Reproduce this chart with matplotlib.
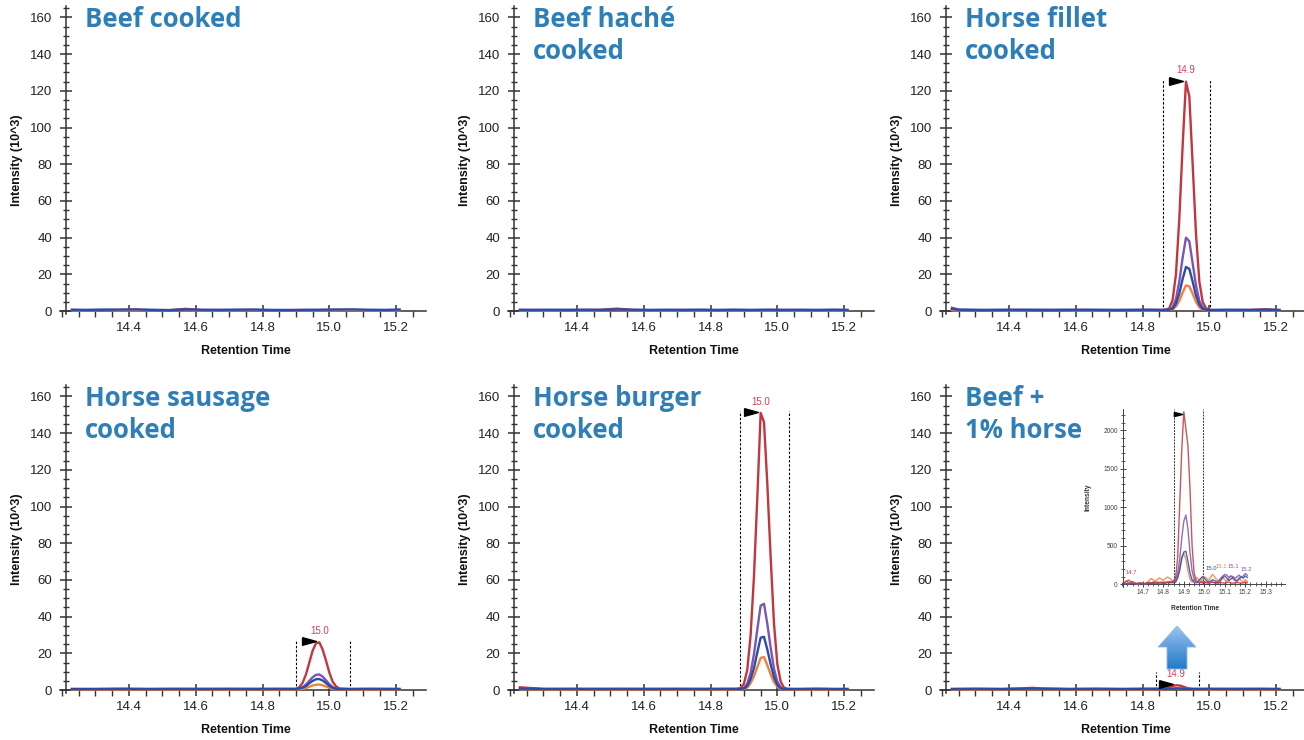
import numpy as np
import matplotlib.pyplot as plt
import matplotlib.transforms as mtransforms
from matplotlib.ticker import MultipleLocator, FormatStrFormatter
from matplotlib.patches import Polygon
from matplotlib.colors import LinearSegmentedColormap

plt.rcParams['font.family'] = ['Liberation Sans', 'DejaVu Sans']

# ---------------- data ----------------
titles = ["Beef cooked", "Beef haché\ncooked", "Horse fillet\ncooked",
          "Horse sausage\ncooked", "Horse burger\ncooked", "Beef +\n1% horse"]

# flat baselines
flat_rt = [14.23, 14.27, 14.32, 14.37, 14.42, 14.47, 14.52, 14.57, 14.62, 14.67, 14.72,
           14.77, 14.82, 14.87, 14.92, 14.97, 15.02, 15.07, 15.12, 15.17, 15.21]

beef_red = [0.6, 0.5, 0.6, 0.5, 0.7, 0.5, 0.4, 1.2, 0.5, 0.6, 0.5, 0.6, 0.5, 0.4, 0.6, 0.5, 0.6, 0.5, 0.4, 0.5, 0.6]
beef_purple = [0.5, 0.5, 0.6, 0.5, 0.5, 0.6, 0.5, 0.7, 0.5, 0.5, 0.6, 0.5, 0.5, 0.6, 0.5, 0.5, 0.6, 0.5, 0.5, 0.5, 0.5]
beef_blue = [0.7, 0.6, 0.7, 0.8, 0.9, 0.6, 0.5, 0.8, 0.7, 0.6, 0.7, 0.8, 0.6, 0.5, 0.6, 0.7, 0.8, 0.9, 0.7, 0.6, 0.8]
beef_orange = [0.4, 0.4, 0.5, 0.4, 0.4, 0.4, 0.5, 0.4, 0.4, 0.4, 0.4, 0.5, 0.4, 0.4, 0.4, 0.4, 0.4, 0.5, 0.4, 0.4, 0.4]

hache_red = [0.5, 0.6, 0.5, 0.5, 0.6, 0.7, 1.3, 0.6, 0.5, 0.5, 0.6, 0.5, 0.5, 0.6, 0.5, 0.5, 0.6, 0.5, 0.5, 0.6, 0.5]
hache_purple = [0.5, 0.5, 0.5, 0.6, 0.5, 0.5, 0.7, 0.5, 0.5, 0.5, 0.5, 0.6, 0.5, 0.5, 0.5, 0.6, 0.5, 0.5, 0.5, 0.5, 0.5]
hache_blue = [0.7, 0.6, 0.7, 0.6, 0.7, 0.6, 0.8, 0.7, 0.6, 0.7, 0.6, 0.7, 0.6, 0.7, 0.6, 0.7, 0.6, 0.7, 0.6, 0.7, 0.6]
hache_orange = [0.4, 0.4, 0.4, 0.4, 0.4, 0.4, 0.5, 0.4, 0.4, 0.4, 0.4, 0.4, 0.4, 0.4, 0.4, 0.4, 0.4, 0.4, 0.4, 0.4, 0.4]

# horse fillet
fillet_rt = [14.23, 14.25, 14.32, 14.42, 14.52, 14.62, 14.72, 14.82, 14.86, 14.87, 14.88, 14.89, 14.90, 14.91,
             14.92, 14.93, 14.94, 14.95, 14.96, 14.97, 14.98, 14.99, 15.00, 15.01, 15.05, 15.12, 15.17, 15.21]
fillet_red = [0.8, 0.5, 0.5, 0.6, 0.5, 0.6, 0.5, 0.6, 0.6, 0.8, 1.5, 6, 20, 50,
              90, 125, 117, 80, 42, 16, 5, 1.5, 0.7, 0.5, 0.5, 0.6, 1.0, 0.5]
fillet_purple = [1.8, 0.8, 0.5, 0.5, 0.6, 0.5, 0.5, 0.5, 0.5, 0.6, 0.9, 2, 6.5, 16,
                 29, 40, 38, 26, 14, 5.5, 2, 0.8, 0.5, 0.5, 0.5, 0.5, 0.5, 0.5]
fillet_blue = [1.2, 0.7, 0.6, 0.7, 0.6, 0.7, 0.6, 0.7, 0.6, 0.6, 0.7, 1.2, 4, 9.5,
               17.5, 24, 23, 16, 8.5, 3.5, 1.2, 0.7, 0.6, 0.6, 0.7, 0.6, 0.7, 0.6]
fillet_orange = [0.5, 0.4, 0.5, 0.4, 0.5, 0.4, 0.5, 0.4, 0.5, 0.5, 0.6, 0.8, 2.5, 5.5,
                 10, 14, 13.5, 9.5, 5, 2, 0.8, 0.5, 0.4, 0.4, 0.5, 0.4, 0.5, 0.4]

# horse sausage
sausage_rt = [14.23, 14.30, 14.38, 14.46, 14.54, 14.62, 14.70, 14.78, 14.85, 14.90, 14.91, 14.92, 14.93, 14.94,
              14.95, 14.96, 14.97, 14.98, 14.99, 15.00, 15.01, 15.02, 15.03, 15.06, 15.12, 15.17, 15.21]
sausage_red = [0.5, 0.5, 0.6, 0.5, 0.5, 0.6, 0.5, 0.6, 0.5, 0.6, 1.5, 4, 8.5, 15,
               21.5, 25.5, 26, 22, 16, 9.5, 4.5, 2, 0.8, 0.5, 0.5, 0.6, 0.5]
sausage_purple = [0.5, 0.5, 0.5, 0.5, 0.5, 0.5, 0.5, 0.5, 0.5, 0.5, 0.8, 1.5, 3, 5,
                  7, 8.3, 8.5, 7.3, 5.3, 3.2, 1.6, 0.8, 0.5, 0.5, 0.5, 0.5, 0.5]
sausage_blue = [0.6, 0.6, 0.7, 0.6, 0.7, 0.6, 0.7, 0.6, 0.7, 0.6, 0.9, 1.3, 2.2, 3.7,
                5, 5.9, 6, 5.2, 3.8, 2.3, 1.2, 0.7, 0.6, 0.6, 0.7, 0.6, 0.6]
sausage_orange = [0.4, 0.4, 0.4, 0.4, 0.4, 0.4, 0.4, 0.4, 0.4, 0.4, 0.5, 0.7, 1.1, 1.8,
                  2.5, 2.9, 3, 2.6, 1.9, 1.2, 0.7, 0.5, 0.4, 0.4, 0.4, 0.4, 0.4]

# horse burger
burger_rt = [14.23, 14.30, 14.38, 14.46, 14.54, 14.62, 14.70, 14.78, 14.85, 14.88, 14.89, 14.90, 14.91, 14.92,
             14.93, 14.94, 14.95, 14.96, 14.97, 14.98, 14.99, 15.00, 15.01, 15.02, 15.03, 15.06, 15.12, 15.17, 15.21]
burger_red = [1.5, 0.6, 0.5, 0.6, 0.5, 0.6, 0.5, 0.6, 0.5, 0.7, 1, 3.5, 11, 30,
              62, 105, 151, 146, 112, 72, 36, 14, 4.5, 1.3, 0.6, 0.5, 0.6, 0.5, 0.5]
burger_purple = [1.0, 0.5, 0.5, 0.5, 0.5, 0.5, 0.5, 0.5, 0.5, 0.5, 0.6, 1.2, 3.5, 9.5,
                 19.5, 33, 46, 47, 36, 23, 11.5, 4.5, 1.5, 0.6, 0.5, 0.5, 0.5, 0.5, 0.5]
burger_blue = [0.8, 0.6, 0.7, 0.6, 0.7, 0.6, 0.7, 0.6, 0.7, 0.6, 0.7, 0.9, 2.2, 6,
               12, 20.5, 28.5, 29, 22, 14, 7, 2.8, 1, 0.6, 0.6, 0.6, 0.7, 0.6, 0.6]
burger_orange = [0.5, 0.4, 0.4, 0.4, 0.4, 0.4, 0.4, 0.4, 0.4, 0.4, 0.5, 0.6, 1.4, 3.7,
                 7.5, 12.5, 17.5, 18, 13.5, 8.5, 4.3, 1.8, 0.7, 0.5, 0.4, 0.4, 0.4, 0.4, 0.4]

# beef + 1% horse
mix_rt = [14.23, 14.30, 14.38, 14.44, 14.47, 14.50, 14.58, 14.66, 14.74, 14.82, 14.86, 14.87,
          14.88, 14.89, 14.90, 14.91, 14.92, 14.93, 14.94, 14.95, 15.00, 15.08, 15.15, 15.21]
mix_red = [0.5, 0.6, 0.5, 0.9, 1.2, 0.8, 0.5, 0.6, 0.5, 0.6, 0.7, 1.0,
           1.6, 2.2, 2.6, 2.5, 2.0, 1.3, 0.8, 0.6, 0.5, 0.6, 0.5, 0.5]
mix_purple = [0.5, 0.5, 0.5, 0.6, 0.7, 0.6, 0.5, 0.5, 0.5, 0.5, 0.5, 0.6,
              0.7, 0.8, 0.9, 0.9, 0.8, 0.7, 0.6, 0.5, 0.5, 0.5, 0.5, 0.5]
mix_blue = [0.6, 0.7, 0.6, 0.7, 0.8, 0.7, 0.6, 0.7, 0.6, 0.7, 0.6, 0.6,
            0.7, 0.7, 0.8, 0.8, 0.7, 0.6, 0.6, 0.6, 0.7, 0.6, 0.7, 0.6]
mix_orange = [0.4, 0.4, 0.4, 0.4, 0.5, 0.4, 0.4, 0.4, 0.4, 0.4, 0.4, 0.5,
              0.5, 0.6, 0.6, 0.6, 0.5, 0.5, 0.4, 0.4, 0.4, 0.4, 0.4, 0.4]

# integration windows and apex labels (None = no peak)
windows = [None, None, [14.862, 15.003], [14.899, 15.061], [14.888, 15.035], [14.839, 14.968]]
apex_labels = [None, None, "14.9", "15.0", "15.0", "14.9"]

# inset (zoom on beef + 1% horse, raw intensity)
inset_rt = [round(14.61 + 0.01 * i, 2) for i in range(61)]
inset_red = [20, 35, 55, 40, 25, 15, 10, 15, 20, 15, 10, 20, 25, 15, 10, 20, 30, 25, 15, 20,
             30, 25, 20, 30, 45, 90, 350, 1050, 1750, 2240, 2020, 1800, 1250, 520, 150, 50, 30, 25, 20, 30,
             25, 15, 20, 30, 20, 15, 20, 25, 20, 15, 25, 30, 20, 15, 20, 25, 20, 15, 20, 25, 20]
inset_orange = [30, 50, 20, 10, 40, 25, 10, 5, 15, 10, 5, 20, 45, 75, 60, 40, 60, 85, 70, 50,
                75, 95, 80, 60, 30, 40, 110, 230, 360, 400, 330, 180, 70, 30, 60, 90, 70, 45, 70, 100,
                80, 50, 90, 130, 100, 60, 40, 70, 90, 60, 40, 80, 110, 70, 40, 60, 90, 50, 30, 60, 40]
inset_blue = [10, 5, 15, 20, 10, 5, 10, 15, 10, 5, 10, 15, 10, 20, 30, 25, 15, 20, 30, 20,
              15, 25, 35, 30, 20, 30, 80, 180, 330, 420, 430, 300, 150, 60, 30, 20, 40, 70, 100, 80,
              50, 30, 40, 60, 50, 30, 20, 50, 90, 110, 80, 50, 70, 90, 60, 40, 70, 100, 80, 110, 90]
inset_purple = [5, 10, 5, 10, 15, 10, 5, 10, 15, 10, 5, 10, 15, 10, 20, 15, 10, 20, 25, 15,
                20, 30, 25, 20, 30, 60, 150, 330, 600, 820, 900, 720, 420, 180, 70, 30, 20, 30, 40, 30,
                20, 30, 40, 30, 20, 30, 50, 80, 110, 130, 120, 90, 110, 100, 80, 100, 120, 90, 110, 140, 120]
inset_window = [14.85, 14.995]
inset_peak_text = ["14.7", "15.0", "15.1", "15.1", "15.2"]
inset_peak_rt = [14.646, 15.036, 15.085, 15.142, 15.204]
inset_peak_int = [120, 170, 200, 200, 165]
inset_peak_color = ["red", "blue", "orange", "purple", "purple"]

# ---------------- styling ----------------
colors = {"red": "#C1373D", "purple": "#7C55B6", "blue": "#2B4DA6", "orange": "#F1813B"}
title_blue = "#2E7FB8"
label_red = "#D0405C"
axis_gray = "#333333"

panels = [
    (flat_rt, {"red": beef_red, "purple": beef_purple, "orange": beef_orange, "blue": beef_blue}),
    (flat_rt, {"red": hache_red, "purple": hache_purple, "orange": hache_orange, "blue": hache_blue}),
    (fillet_rt, {"red": fillet_red, "purple": fillet_purple, "orange": fillet_orange, "blue": fillet_blue}),
    (sausage_rt, {"red": sausage_red, "purple": sausage_purple, "orange": sausage_orange, "blue": sausage_blue}),
    (burger_rt, {"red": burger_red, "purple": burger_purple, "orange": burger_orange, "blue": burger_blue}),
    (mix_rt, {"red": mix_red, "purple": mix_purple, "orange": mix_orange, "blue": mix_blue}),
]

W, H = 1304, 740
fig = plt.figure(figsize=(W / 100, H / 100), dpi=100)


def px_axes(left, top, width, height):
    return fig.add_axes([left / W, 1 - (top + height) / H, width / W, height / H])


col_dx = [0, 448, 880]
row_dy = [0, 379]

for i, (rt, series) in enumerate(panels):
    dx = col_dx[i % 3]
    dy = row_dy[i // 3]
    ax = px_axes(60.3 + dx, 6.4 + dy, 366, 307.4)
    ax.set_xlim(14.195, 15.29)
    ax.set_ylim(-1.5, 166)
    for name, vals in series.items():
        ax.plot(rt, vals, color=colors[name], lw=1.7, solid_joinstyle='round', zorder=3)

    for s in ["top", "right"]:
        ax.spines[s].set_visible(False)
    ax.spines["left"].set_position(("data", 14.212))
    ax.spines["bottom"].set_position(("data", 0))
    for s in ["left", "bottom"]:
        ax.spines[s].set_color(axis_gray)
        ax.spines[s].set_linewidth(1.1)

    ax.xaxis.set_minor_locator(MultipleLocator(0.05))
    ax.xaxis.set_major_formatter(FormatStrFormatter("%.1f"))
    ax.set_xticks([14.4, 14.6, 14.8, 15.0, 15.2])
    ax.yaxis.set_minor_locator(MultipleLocator(5))
    ax.set_yticks(range(0, 161, 20))
    ax.tick_params(axis="both", which="major", direction="inout", length=8, width=1.1,
                   color=axis_gray, labelcolor="#222222", labelsize=9.5)
    ax.tick_params(axis="x", which="major", pad=4)
    ax.tick_params(axis="y", which="major", pad=6)
    ax.tick_params(axis="y", which="minor", direction="inout", length=5, width=1.0, color=axis_gray)
    ax.tick_params(axis="x", which="minor", direction="out", length=4, width=1.0, color=axis_gray)

    ax.set_xlabel("Retention Time", fontsize=9, fontweight="bold", color="#111111")
    ax.set_ylabel("Intensity (10^3)", fontsize=9, fontweight="bold", color="#111111")
    ax.xaxis.set_label_coords(0.507, -0.122)
    ax.xaxis.label.set_va("center")
    ax.yaxis.set_label_coords(-0.118, 0.5)
    ax.yaxis.label.set_va("center")

    # title: baseline of the last line sits one line lower per extra line
    n_lines = titles[i].count("\n") + 1
    base_px = 27 + 32 * (n_lines - 1)
    ax.text((85 - 60.3) / 366, 1 - (base_px - 6.4) / 307.4, titles[i], transform=ax.transAxes,
            ha="left", va="baseline", fontsize=18.5, fontweight="bold", color=title_blue,
            family=["Open Sans", "DejaVu Sans"], linespacing=1.22, zorder=5)

    if windows[i] is not None:
        red = np.array(series["red"])
        k = int(np.argmax(red))
        apex_x, apex_y = rt[k], red[k]
        top = max(apex_y + 1, 10)
        ax.vlines(windows[i], 0, top, colors="black", linestyles=(0, (2.2, 1.6)), lw=0.8, zorder=2)
        tr = mtransforms.offset_copy(ax.transData, fig=fig, x=-10, y=1, units="dots")
        ax.plot([apex_x], [apex_y], marker=[(-1, 0.55), (1, 0), (-1, -0.55), (-1, 0.55)],
                ms=10, color="black", transform=tr, zorder=4, clip_on=False)
        ax.annotate(apex_labels[i], (apex_x, apex_y), xytext=(0, 6), textcoords="offset points",
                    ha="center", va="baseline", fontsize=7, color=label_red, zorder=4)

# ---------------- inset ----------------
iax = px_axes(1121.3, 408.7, 164, 178)
iax.set_xlim(14.595, 15.395)
iax.set_ylim(-30, 2280)
for name, vals in [("orange", inset_orange), ("blue", inset_blue), ("purple", inset_purple), ("red", inset_red)]:
    iax.plot(inset_rt, vals, color=colors[name], lw=1.0, alpha=0.85, zorder=3)
for s in ["top", "right"]:
    iax.spines[s].set_visible(False)
iax.spines["left"].set_position(("data", 14.602))
iax.spines["bottom"].set_position(("data", 0))
for s in ["left", "bottom"]:
    iax.spines[s].set_color("#444444")
    iax.spines[s].set_linewidth(0.7)
iax.set_xticks([14.7, 14.8, 14.9, 15.0, 15.1, 15.2, 15.3])
iax.xaxis.set_major_formatter(FormatStrFormatter("%.1f"))
iax.xaxis.set_minor_locator(MultipleLocator(0.025))
iax.set_yticks([0, 500, 1000, 1500, 2000])
iax.yaxis.set_minor_locator(MultipleLocator(100))
iax.tick_params(axis="both", which="major", direction="inout", length=4, width=0.7,
                color="#444444", labelcolor="#444444", labelsize=4.8, pad=1.5)
iax.tick_params(axis="both", which="minor", direction="inout", length=2.5, width=0.6, color="#444444")
iax.set_xlabel("Retention Time", fontsize=4.8, fontweight="bold", color="#333333")
iax.set_ylabel("Intensity", fontsize=4.8, fontweight="bold", color="#333333")
iax.xaxis.set_label_coords(0.45, -0.1)
iax.yaxis.set_label_coords(-0.18, 0.5)
iax.patch.set_alpha(0)
iax.vlines(inset_window, 0, 2280, colors="#333333", linestyles=(0, (2, 1.2)), lw=0.7, zorder=2)
ik = int(np.argmax(inset_red))
itr = mtransforms.offset_copy(iax.transData, fig=fig, x=-6, y=-2, units="dots")
iax.plot([inset_rt[ik]], [inset_red[ik]], marker=[(-1, 0.5), (1, 0), (-1, -0.5), (-1, 0.5)],
         ms=6, color="black", transform=itr, zorder=4, clip_on=False)
for txt, x, y, c in zip(inset_peak_text, inset_peak_rt, inset_peak_int, inset_peak_color):
    iax.text(x, y, txt, fontsize=4.2, color=colors[c], ha="center", va="bottom", zorder=4)

# ---------------- blue arrow pointing to the inset ----------------
aax = px_axes(1156, 626, 42, 45)
aax.set_axis_off()
aax.set_xlim(0, 1)
aax.set_ylim(0, 1)
arrow = Polygon([(0.5, 1.0), (0.952, 0.533), (0.738, 0.533), (0.738, 0.044),
                 (0.262, 0.044), (0.262, 0.533), (0.048, 0.533)], closed=True,
                facecolor="none", edgecolor="#8DBBE8", lw=0.6, transform=aax.transAxes)
aax.add_patch(arrow)
grad_cmap = LinearSegmentedColormap.from_list("arrow", ["#1E78C6", "#5A9BDB", "#9AC3EC"])
grad = np.linspace(0, 1, 64).reshape(-1, 1)
img = aax.imshow(grad, cmap=grad_cmap, extent=(0, 1, 0, 1), origin="lower", aspect="auto")
img.set_clip_path(arrow)

fig.savefig("out.png", dpi=100)
